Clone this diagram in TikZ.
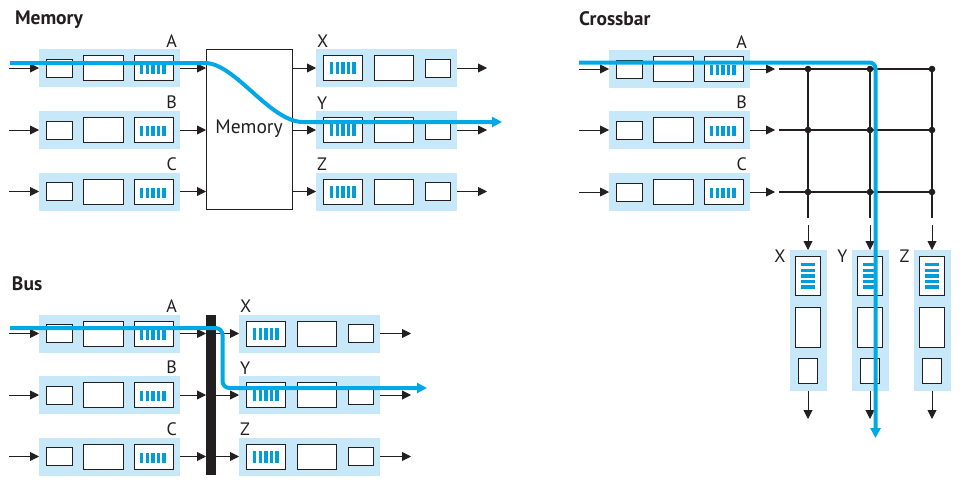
\documentclass[tikz,border=0pt]{standalone}
\usepackage{fontspec}
\setmainfont{PT Sans}
\usetikzlibrary{arrows.meta}
\definecolor{bandc}{HTML}{C7E8F8}
\definecolor{flowc}{HTML}{00A8E6}
\definecolor{qbarc}{HTML}{009DDC}
\definecolor{inkc}{HTML}{231F20}
\tikzset{
  bandnode/.style={fill=bandc, draw=none, inner sep=0, outer sep=0},
  cell/.style={draw=inkc, fill=white, line width=0.9pt, inner sep=0, outer sep=0},
  link/.style={draw=inkc, line width=0.9pt, -{Triangle[length=9pt,width=9pt]}},
  gridline/.style={draw=inkc, line width=2pt},
  flowline/.style={draw=flowc, line width=4pt},
  flowtip/.style={-{Triangle[length=10pt,width=10pt]}},
  lbl/.style={font=\fontsize{18}{18}\selectfont, inner sep=0, outer sep=0, text=inkc},
  ttl/.style={font=\fontsize{19.5}{19.5}\selectfont\bfseries, inner sep=0, outer sep=0, text=inkc},
  busbar/.style={fill=inkc, draw=none, inner sep=0, outer sep=0, minimum width=10, minimum height=160}
}
\newcommand{\inport}[4]{%
  \node[bandnode, minimum width=141, minimum height=38, anchor=west] (#1) at (#2,#3) {};
  \node[cell, minimum width=26, minimum height=18, anchor=west] (#1-s) at ({#2+7},#3) {};
  \node[cell, minimum width=40, minimum height=25, anchor=west] (#1-m) at ({#2+44},#3) {};
  \node[cell, minimum width=39, minimum height=25, anchor=west] (#1-q) at ({#2+95},#3) {};
  \foreach \k in {0,...,4} \fill[qbarc] ({#2+101+\k*5.6},{#3-4}) rectangle ++(3.4,10);
  \node[lbl, anchor=south east] (#1-l) at ({#2+138},{#3-21}) {#4};
}
\newcommand{\outport}[4]{%
  \node[bandnode, minimum width=141, minimum height=38, anchor=west] (#1) at (#2,#3) {};
  \node[cell, minimum width=39, minimum height=25, anchor=west] (#1-q) at ({#2+7},#3) {};
  \foreach \k in {0,...,4} \fill[qbarc] ({#2+14+\k*5.6},{#3-6}) rectangle ++(3.4,12);
  \node[cell, minimum width=39, minimum height=25, anchor=west] (#1-m) at ({#2+58},#3) {};
  \node[cell, minimum width=25, minimum height=18, anchor=west] (#1-s) at ({#2+109},#3) {};
  \node[lbl, anchor=south west] (#1-l) at ({#2+1},{#3-21}) {#4};
}
\newcommand{\colport}[4]{%
  \node[bandnode, minimum width=37, minimum height=141, anchor=north] (#1) at (#2,#3) {};
  \node[cell, minimum width=25, minimum height=39, anchor=north] (#1-q) at (#2,{#3+6}) {};
  \foreach \k in {0,...,4} \fill[qbarc] ({#2-7},{#3+13+\k*5.6}) rectangle ++(14,3.3);
  \node[cell, minimum width=25, minimum height=40, anchor=north] (#1-m) at (#2,{#3+57}) {};
  \node[cell, minimum width=19, minimum height=25, anchor=north] (#1-s) at (#2,{#3+108}) {};
  \node[lbl, anchor=north east] (#1-l) at ({#2-22.5},#3) {#4};
}
\begin{document}
\begin{tikzpicture}[x=1pt,y=-1pt]
\useasboundingbox (0,0) rectangle (964,491);

% ---------------- Memory ----------------
\node[ttl, anchor=base west] (tmem) at (15,24) {Memory};
\inport{mA}{39}{68}{A}
\inport{mB}{39}{130}{B}
\inport{mC}{39}{191.5}{C}
\node[cell, minimum width=86, minimum height=160, font=\fontsize{19.5}{19.5}\selectfont, text=inkc] (mem) at (249,129) {Memory};
\outport{mX}{316}{68}{X}
\outport{mY}{316}{130}{Y}
\outport{mZ}{316}{191.5}{Z}
\foreach \r/\y in {A/68,B/130,C/191.5}{
  \coordinate (m\r i) at (9,\y);
  \draw[link] (m\r i) -- (m\r.west);
  \draw[link] (m\r.east) -- (m\r.east -| mem.west);
}
\foreach \r/\y in {X/68,Y/130,Z/191.5}{
  \coordinate (m\r o) at (487,\y);
  \draw[link] (mem.east |- m\r.west) -- (m\r.west);
  \draw[link] (m\r.east) -- (m\r o);
}

% ---------------- Crossbar ----------------
\node[ttl, anchor=base west] (tcross) at (579,25) {Crossbar};
\inport{cA}{609}{69}{A}
\inport{cB}{609}{130}{B}
\inport{cC}{609}{192}{C}
\foreach \r/\y in {A/69,B/130,C/192}{
  \coordinate (c\r i) at (579,\y);
  \coordinate (c\r o) at (775,\y);
  \draw[link] (c\r i) -- (c\r.west);
  \draw[link] (c\r.east) -- (c\r o);
  \coordinate (g\r0) at (779,\y);
  \coordinate (g\r1) at (808,\y);
  \coordinate (g\r2) at (870,\y);
  \coordinate (g\r3) at (932,\y);
  \draw[gridline] (g\r0) -- ([xshift=1pt]g\r3);
}
\foreach \c/\x/\l in {1/808/X,2/870/Y,3/932/Z}{
  \coordinate (gV\c) at (\x,218);
  \draw[gridline] (gA\c) -- (gV\c);
  \foreach \r in {A,B,C} \fill[inkc] (g\r\c) circle (3.3);
  \colport{c\l}{\x}{250}{\l}
  \coordinate (c\l i) at (\x,225);
  \coordinate (c\l o) at (\x,419);
  \draw[link] (c\l i) -- (c\l.north);
  \draw[link] (c\l.south) -- (c\l o);
}

% ---------------- Bus ----------------
\node[ttl, anchor=base west] (tbus) at (12,290) {Bus};
\inport{bA}{39}{333.5}{A}
\inport{bB}{39}{395}{B}
\inport{bC}{39}{456.5}{C}
\node[busbar] (bus) at (211,395) {};
\outport{bX}{239}{333.5}{X}
\outport{bY}{239}{395}{Y}
\outport{bZ}{239}{456.5}{Z}
\foreach \r/\y in {A/333.5,B/395,C/456.5}{
  \coordinate (b\r i) at (9,\y);
  \draw[link] (b\r i) -- (b\r.west);
  \draw[link] (b\r.east) -- (b\r.east -| bus.west);
}
\foreach \r/\y in {X/333.5,Y/395,Z/456.5}{
  \coordinate (b\r o) at (411,\y);
  \draw[link] (bus.east |- b\r.west) -- (b\r.west);
  \draw[link] (b\r.east) -- (b\r o);
}

% ---------------- flows ----------------
\coordinate (f1s) at (10,63);
\coordinate (f1a) at (205,63);
\coordinate (f1b) at (303,122);
\coordinate (f1e) at (502,122);
\draw[flowline, flowtip] (f1s) -- (f1a) .. controls (235,63) and (270,122) .. (f1b) -- (f1e);

\coordinate (f2s) at (579,62.5);
\coordinate (f2c) at (875.5,62.5);
\coordinate (f2e) at (875.5,438);
\draw[flowline, flowtip, rounded corners=6] (f2s) -- (f2c) -- (f2e);

\coordinate (f3s) at (10,328);
\coordinate (f3a) at (222.5,328);
\coordinate (f3b) at (222.5,388);
\coordinate (f3e) at (427,388);
\draw[flowline, flowtip, rounded corners=7] (f3s) -- (f3a) -- (f3b) -- (f3e);
\end{tikzpicture}
\end{document}
